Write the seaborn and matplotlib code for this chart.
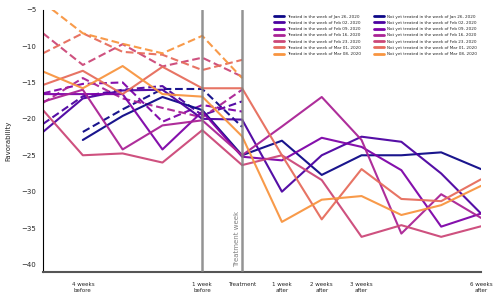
import matplotlib
matplotlib.use("Agg")
import matplotlib.pyplot as plt
import matplotlib.cm as cm
from matplotlib.lines import Line2D
import numpy as np
import pandas as pd
import seaborn as sns

cohorts = ["Jan 26, 2020", "Feb 02, 2020", "Feb 09, 2020", "Feb 16, 2020",
           "Feb 23, 2020", "Mar 01, 2020", "Mar 08, 2020"]

weeks_full = [-5, -4, -3, -2, -1, 0, 1, 2, 3, 4, 5, 6]
weeks_pre = [-5, -4, -3, -2, -1, 0]

treated_jan26 = [-22.9, -19.6, -17.0, -18.8, -25.0, -23.0, -27.7, -25.0, -25.0, -24.6, -26.9]
treated_feb02 = [-21.8, -17.2, -16.1, -16.0, -20.0, -20.1, -30.0, -25.0, -22.45, -23.15, -27.5, -33.0]
treated_feb09 = [-16.6, -16.6, -16.6, -24.2, -19.0, -25.2, -25.7, -22.6, -23.85, -27.05, -34.8, -33.0]
treated_feb16 = [-17.65, -16.0, -24.2, -20.9, -20.2, -25.0, -21.05, -17.0, -22.9, -35.75, -30.35, -33.6]
treated_feb23 = [-18.8, -25.0, -24.75, -26.0, -21.55, -26.35, -25.0, -28.4, -36.2, -34.6, -36.2, -34.75]
treated_mar01 = [-15.35, -13.4, -16.6, -12.85, -15.8, -15.8, -25.0, -33.8, -26.9, -31.0, -31.3, -28.3]
treated_mar08 = [-13.5, -15.8, -12.75, -16.6, -16.95, -22.4, -34.15, -31.1, -30.6, -33.2, -31.85, -29.2]

notyet_jan26 = [-21.8, -18.7, -15.9, -15.9, -21.1]
notyet_feb02 = [-20.7, -16.9, -16.0, -15.5, -19.5, -17.6]
notyet_feb09 = [-16.5, -15.2, -15.0, -20.4, -18.1, -19.0]
notyet_feb16 = [-17.8, -14.4, -17.2, -18.5, -19.8, -16.0]
notyet_feb23 = [-8.25, -12.6, -9.75, -12.8, -11.6, -14.2]
notyet_mar01 = [-11.0, -8.25, -10.8, -11.2, -13.3, -11.9]
notyet_mar08 = [-4.0, -8.25, -9.7, -11.0, -8.6, -14.4]

treated = [treated_jan26, treated_feb02, treated_feb09, treated_feb16,
           treated_feb23, treated_mar01, treated_mar08]
notyet = [notyet_jan26, notyet_feb02, notyet_feb09, notyet_feb16,
          notyet_feb23, notyet_mar01, notyet_mar08]

tick_pos = [-4, -1, 0, 1, 2, 3, 6]
tick_labels = ["4 weeks\nbefore", "1 week\nbefore", "Treatment", "1 week\nafter",
               "2 weeks\nafter", "3 weeks\nafter", "6 weeks\nafter"]

sns.set_style("white")
plt.rcParams["font.family"] = ["DejaVu Sans"]

colors = [cm.plasma(v) for v in np.arange(7) / 8.0]

fig = plt.figure(figsize=(5, 3), dpi=100)
ax = fig.add_axes([0.086, 0.094, 0.876, 0.874])

rows = []
for i, c in enumerate(cohorts):
    t = treated[i]
    wt = weeks_full[len(weeks_full) - len(t):]
    for w, v in zip(wt, t):
        rows.append(dict(week=w, value=v, cohort=c, group="Treated"))
    n = notyet[i]
    wn = weeks_pre[len(weeks_pre) - len(n):]
    for w, v in zip(wn, n):
        rows.append(dict(week=w, value=v, cohort=c, group="Not yet"))
df = pd.DataFrame(rows)

for i, c in enumerate(cohorts):
    sub = df[(df.cohort == c) & (df.group == "Not yet")]
    sns.lineplot(data=sub, x="week", y="value", color=colors[i], lw=1.5,
                 linestyle=(0, (3.7, 1.8)), ax=ax, legend=False, alpha=0.95)
for i, c in enumerate(cohorts):
    sub = df[(df.cohort == c) & (df.group == "Treated")]
    sns.lineplot(data=sub, x="week", y="value", color=colors[i], lw=1.5,
                 ax=ax, legend=False, alpha=0.95)

ax.axvline(-1, color="gray", lw=1.8, alpha=0.85, zorder=5)
ax.axvline(0, color="gray", lw=1.8, alpha=0.85, zorder=5)
ax.text(-0.13, -40.4, "Treatment week", rotation=90, color="gray",
        fontsize=5, ha="center", va="bottom")

ax.set_xlim(-5, 6)
ax.set_ylim(-41, -5)
ax.set_yticks([-5, -10, -15, -20, -25, -30, -35, -40])
ax.set_xticks(tick_pos)
ax.set_xticklabels(tick_labels, fontsize=4)
ax.tick_params(axis="y", labelsize=5, length=3, width=0.8, color="black", pad=2)
ax.tick_params(axis="x", length=3.5, width=1, color="#555555", pad=4)
ax.set_xlabel("")
ax.set_ylabel("Favorability", fontsize=5, labelpad=7)

sns.despine(ax=ax)
ax.spines["left"].set_color("black")
ax.spines["left"].set_linewidth(0.8)
ax.spines["bottom"].set_color("#555555")
ax.spines["bottom"].set_linewidth(1.5)

handles = []
labels = []
for i, c in enumerate(cohorts):
    handles.append(Line2D([0], [0], color=colors[i], lw=2))
    labels.append("Treated in the week of " + c)
for i, c in enumerate(cohorts):
    handles.append(Line2D([0], [0], color=colors[i], lw=2))
    labels.append("Not yet treated in the week of " + c)
leg = ax.legend(handles, labels, ncol=2, fontsize=2.95, frameon=False,
                loc="upper right", bbox_to_anchor=(1.0, 0.995),
                handlelength=2.4, labelspacing=0.55, columnspacing=3.0,
                handletextpad=0.9)

fig.savefig("out.png", dpi=100)
